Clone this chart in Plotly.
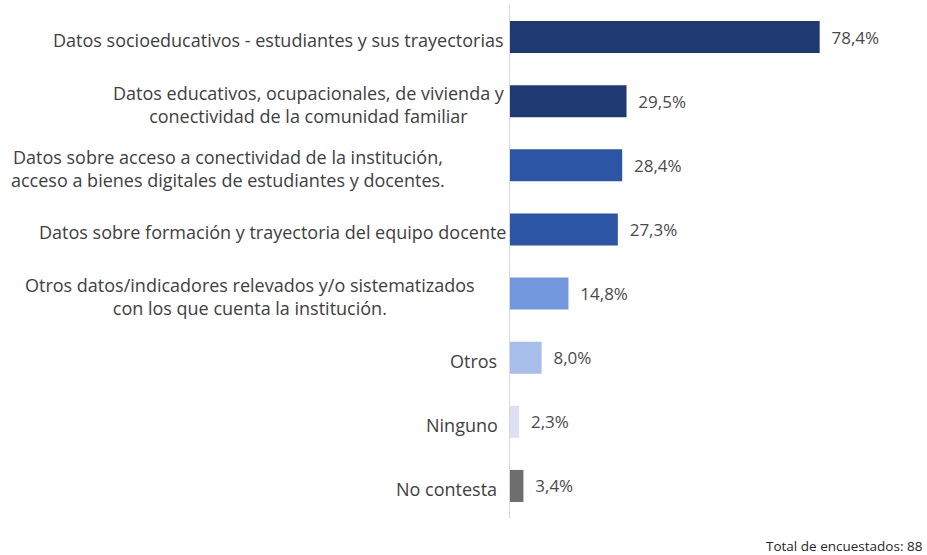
import plotly.graph_objects as go

# Survey results: data sources held by the institution (% of respondents)
categories = [
    "Datos socioeducativos - estudiantes y sus trayectorias",
    "Datos educativos, ocupacionales, de vivienda y<br>conectividad de la comunidad familiar",
    "Datos sobre acceso a conectividad de la institución,<br>acceso a bienes digitales de estudiantes y docentes.",
    "Datos sobre formación y trayectoria del equipo docente",
    "Otros datos/indicadores relevados y/o sistematizados<br>con los que cuenta la institución.",
    "Otros",
    "Ninguno",
    "No contesta",
]
values = [78.4, 29.5, 28.4, 27.3, 14.8, 8.0, 2.3, 3.4]
total_note = "Total de encuestados: 88"

# styling
bar_colors = ["#1F3A72", "#1F3A72", "#2D55A6", "#2D55A6",
              "#7397DC", "#A8BEEA", "#DDE0F5", "#6E6E6E"]
label_right_px = [-2, -1, -61, 0, -31, -9, -8, -9]   # right edge offset from axis
FONT = "Open Sans"
TEXT_COLOR = "#404040"

fig = go.Figure(
    go.Bar(
        x=values,
        y=categories,
        orientation="h",
        marker=dict(color=bar_colors, line=dict(width=0)),
        width=0.5,
        texttemplate="\u00a0\u00a0%{x:.1f}%",
        textposition="outside",
        textfont=dict(family=FONT, size=17, color="#4a4a4a"),
        cliponaxis=False,
        hoverinfo="skip",
    )
)

annotations = []
for cat, dx in zip(categories, label_right_px):
    annotations.append(dict(
        x=0, xref="paper", y=cat, yref="y",
        xanchor="right", yanchor="middle", align="center",
        xshift=dx - 2, yshift=-3,
        text=cat, showarrow=False,
        font=dict(family=FONT, size=18, color=TEXT_COLOR),
    ))
annotations.append(dict(
    x=1, xref="paper", y=0, yref="paper", xanchor="right", yanchor="top",
    xshift=20, yshift=-17, text=total_note, showarrow=False,
    font=dict(family=FONT, size=13.5, color="#262626"),
))

fig.update_layout(
    width=927, height=555,
    margin=dict(l=510, r=22, t=5, b=37),
    paper_bgcolor="white", plot_bgcolor="white",
    separators=",.",
    showlegend=False,
    bargap=0.5,
    annotations=annotations,
    xaxis=dict(range=[0, 100], visible=False, fixedrange=True),
    yaxis=dict(
        categoryorder="array", categoryarray=categories[::-1],
        showticklabels=False, showgrid=False, zeroline=False,
        showline=True, linecolor="#D9D9D9", linewidth=1, ticks="",
        fixedrange=True,
    ),
)

fig.write_html("out.html")
